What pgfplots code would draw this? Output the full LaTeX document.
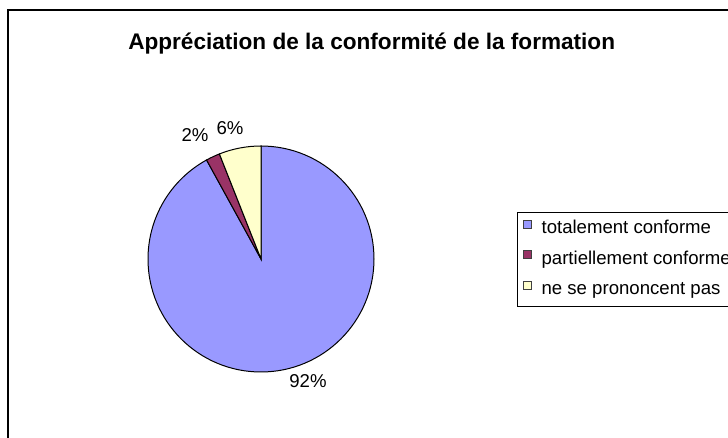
\documentclass[border=0pt]{standalone}
\usepackage{fontspec}
\setmainfont{Liberation Sans}
\usepackage{pgfplots}
\pgfplotsset{compat=1.18}
\definecolor{pieblue}{HTML}{9999FF}
\definecolor{piered}{HTML}{993366}
\definecolor{pieyellow}{HTML}{FFFFCC}

\begin{document}
\begin{tikzpicture}[x=0.75bp,y=0.75bp]
% picture is 728 x 438 "pixels", y measured from the bottom
\useasboundingbox (0,0) rectangle (728,438);
\clip (0,0) rectangle (728,438);
\draw[line width=1.5bp] (8,-20) rectangle (760,428);
\node[font=\bfseries\fontsize{17}{20}\selectfont, anchor=base west, inner sep=0pt]
  at (128,388) {Appréciation de la conformité de la formation};
\begin{axis}[
    at={(195.75bp,134.25bp)}, anchor=origin,
    scale only axis, width=169.5bp, height=169.5bp,
    xmin=-1, xmax=1, ymin=-1, ymax=1,
    hide axis, clip=false,
    legend style={
      at={(axis cs:2.265,0.416)}, anchor=north west,
      draw=black, line width=0.75bp,
      font=\fontsize{14}{16}\selectfont,
      inner xsep=4.5bp, inner ysep=5.5bp,
      row sep=9.5bp, column sep=7bp,
      nodes={inner sep=0pt, text height=10bp, text depth=3bp},
      cells={anchor=west},
    },
    legend image code/.code={
      \draw[#1, draw=black!75, line width=0.6bp] (0bp,0.6bp) rectangle (6bp,6.6bp);
    },
  ]
  \addlegendimage{fill=pieblue}
  \addlegendentry{totalement conforme}
  \addlegendimage{fill=piered}
  \addlegendentry{partiellement conforme}
  \addlegendimage{fill=pieyellow}
  \addlegendentry{ne se prononcent pas}
  % slices: value / colour / label position, clockwise from 12 o'clock
  \pgfplotsextra{
    \xdef\acc{90}
    \foreach \v/\c/\lx/\ly in {92/pieblue/0.416/-1.080, 2/piered/-0.584/1.093, 6/pieyellow/-0.274/1.155} {
      \pgfmathsetmacro\st{\acc}
      \pgfmathsetmacro\en{\acc-3.6*\v}
      \filldraw[fill=\c, draw=black, line width=0.75bp]
        (axis cs:0,0) -- (axis cs:{cos(\st)},{sin(\st)})
        arc[start angle=\st, end angle=\en, radius=84.75bp] -- cycle;
      \node[font=\fontsize{14}{16}\selectfont, inner sep=0pt]
        at (axis cs:\lx,\ly) {\v\%};
      \xdef\acc{\en}
    }
  }
\end{axis}
\end{tikzpicture}
\end{document}
